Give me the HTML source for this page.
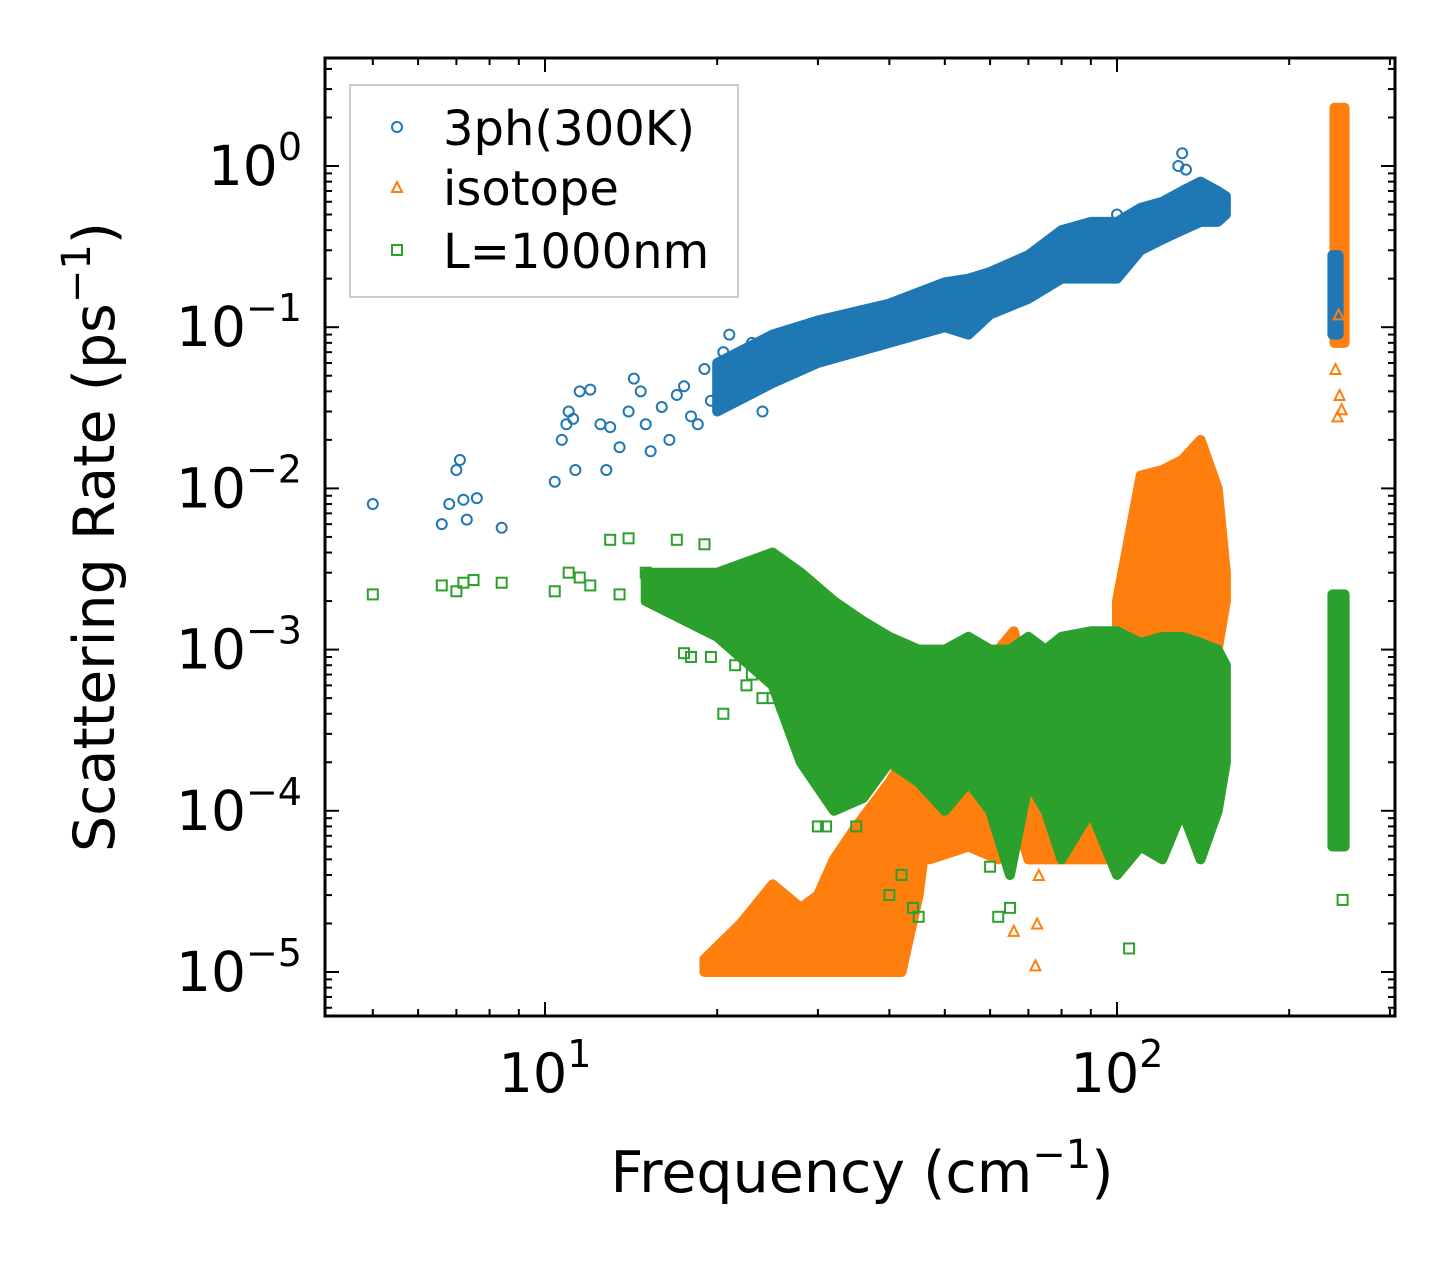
<!DOCTYPE html>
<html><head><meta charset="utf-8">
<style>
body{margin:0;background:#fff;}
svg text{font-family:"DejaVu Sans","Liberation Sans",sans-serif;fill:#000;}
</style></head>
<body>
<svg id="chart" width="1455" height="1265" viewBox="0 0 1455 1265" xmlns="http://www.w3.org/2000/svg">
<rect width="1455" height="1265" fill="#fff"/>
<g id="marks"></g>
<g id="axes"></g>
<text x="862" y="1192" font-size="57" text-anchor="middle">Frequency (cm<tspan dy="-24" font-size="40">−1</tspan><tspan dy="24">)</tspan></text>
<text transform="translate(114,537) rotate(-90)" font-size="57" text-anchor="middle">Scattering Rate (ps<tspan dy="-24" font-size="40">−1</tspan><tspan dy="24">)</tspan></text>
<g>
<rect x="350" y="85" width="388" height="212" fill="#fff" stroke="#ccc" stroke-width="2"/>
<g>
<circle cx="397" cy="127" r="5" fill="none" stroke="#1f77b4" stroke-width="2"/>
<text x="443" y="145" font-size="48">3ph(300K)</text></g>
<g>
<path d="M397,182 L402,192 L392,192 Z" fill="none" stroke="#ff7f0e" stroke-width="2"/>
<text x="443" y="205" font-size="48">isotope</text></g>
<g>
<rect x="392" y="245" width="10" height="10" fill="none" stroke="#2ca02c" stroke-width="2"/>
<text x="443" y="268" font-size="48">L=1000nm</text></g>
</g>
</svg>
<script>
// ---- data ----
const blueBandFreq=[20,25,30,40,50,55,60,70,80,90,100,110,120,130,140,150,155];
const blueBandLow=[0.03,0.045,0.06,0.08,0.1,0.09,0.12,0.15,0.2,0.2,0.2,0.3,0.35,0.4,0.45,0.45,0.5];
const blueBandHigh=[0.06,0.09,0.11,0.14,0.19,0.2,0.22,0.28,0.4,0.45,0.45,0.55,0.6,0.7,0.8,0.7,0.65];
const blueStripFreq=[238,244];const blueStripLow=[0.09,0.09];const blueStripHigh=[0.28,0.28];
const bluePtsFreq=[5,6.6,6.8,7,7.1,7.2,7.3,7.6,8.4,10.4,10.7,10.9,11,11.2,11.3,11.5,12,12.5,12.8,13,13.5,14,14.3,14.7,15,15.3,16,16.5,17,17.5,18,18.5,19,19.5,20.5,21,22,23,24,25,130,100,128,132];
const bluePtsRate=[0.008,0.006,0.008,0.013,0.015,0.0085,0.0064,0.0087,0.0057,0.011,0.02,0.025,0.03,0.027,0.013,0.04,0.041,0.025,0.013,0.024,0.018,0.03,0.048,0.04,0.025,0.017,0.032,0.02,0.038,0.043,0.028,0.025,0.055,0.035,0.07,0.09,0.05,0.08,0.03,0.05,1.2,0.5,1.0,0.95];

const orgBandFreq=[19,22,25,28,30,32,35,40,42,45,47];
const orgBandLow=[1e-5,1e-5,1e-5,1e-5,1e-5,1e-5,1e-5,1e-5,1e-5,3e-5,1e-4];
const orgBandHigh=[1.2e-5,2e-5,3.5e-5,2.5e-5,3e-5,5e-5,8e-5,1.5e-4,2e-4,3e-4,6e-4];
const orgMidFreq=[47,55,62,66,70,80,90,100];
const orgMidLow=[5e-5,6e-5,5e-5,1e-4,5e-5,5e-5,5e-5,5e-5];
const orgMidHigh=[8e-4,6e-4,1e-3,1.3e-3,6e-4,7e-4,8e-4,1e-3];
const orgHiFreq=[100,105,110,120,130,140,150,155];
const orgHiLow=[1e-3,2e-4,5e-4,1e-3,1e-3,1e-3,1e-3,2e-3];
const orgHiHigh=[2e-3,5e-3,1.2e-2,1.3e-2,1.5e-2,2e-2,1e-2,3e-3];
const orgStripFreq=[240,250];const orgStripLow=[0.08,0.08];const orgStripHigh=[2.3,2.3];
const orgPtsFreq=[72,72.5,73,66,243,245,247,241,244];
const orgPtsRate=[1.1e-5,2e-5,4e-5,1.8e-5,0.028,0.038,0.031,0.055,0.12];

const grnBandFreq=[15,20,25,28,32,36,40,45,50,55,60,65,70,75,80,90,100,110,120,130,140,150,155];
const grnBandLow=[0.002,0.0012,0.0006,0.0002,0.0001,0.00012,0.0002,0.00015,0.0001,0.00015,0.0001,0.00004,0.00015,0.0001,0.00005,0.0001,0.00004,0.00006,0.00005,0.0001,0.00005,0.0001,0.0002];
const grnBandHigh=[0.003,0.003,0.004,0.003,0.002,0.0015,0.0012,0.001,0.001,0.0012,0.001,0.001,0.0012,0.001,0.0012,0.0013,0.0013,0.0011,0.0012,0.0012,0.0011,0.001,0.0008];
const grnStripFreq=[238,250];const grnStripLow=[6e-5,6e-5];const grnStripHigh=[2.2e-3,2.2e-3];
const grnPtsFreq=[5,6.6,7,7.2,7.5,8.4,10.4,11,11.5,12,13,13.5,14,15,16,17,17.5,18,19,19.5,20,21,22,23,24,20.5,27,30,31,35,40,42,44,45,62,65,105,248,60,21.5,22.5,23.5,25,26];
const grnPtsRate=[0.0022,0.0025,0.0023,0.0026,0.0027,0.0026,0.0023,0.003,0.0028,0.0025,0.0048,0.0022,0.0049,0.003,0.0025,0.0048,0.00095,0.0009,0.0045,0.0009,0.0022,0.0018,0.0012,0.0007,0.0005,0.0004,0.00035,0.00008,0.00008,0.00008,0.00003,0.00004,0.000025,0.000022,0.000022,0.000025,0.000014,0.000028,0.000045,0.0008,0.0006,0.0009,0.0005,0.00045];

// ---- axes ----
const X0=545,DX=572,Y0=166,DY=161.2;
const PL=325,PR=1395,PT=58,PB=1016;
const xs=f=>X0+(Math.log10(f)-1)*DX;
const ys=v=>Y0-Math.log10(v)*DY;
const NS="http://www.w3.org/2000/svg";
const marks=document.getElementById('marks');
const axes=document.getElementById('axes');
function mk(tag,attrs,parent){const e=document.createElementNS(NS,tag);for(const k in attrs)e.setAttribute(k,attrs[k]);parent.appendChild(e);return e;}

function band(fr,lo,hi,color,name){
  let pts=fr.map((f,i)=>xs(f)+','+ys(hi[i]));
  for(let i=fr.length-1;i>=0;i--)pts.push(xs(fr[i])+','+ys(lo[i]));
  const p=mk('polygon',{points:pts.join(' '),fill:color,stroke:color,'stroke-width':10,'stroke-linejoin':'round'},marks);
  
  
}
function pts(fr,rt,kind,color,name){
  fr.forEach((f,i)=>{
    const x=xs(f),y=ys(rt[i]);let e;
    if(kind==='c')e=mk('circle',{cx:x,cy:y,r:5,fill:'none',stroke:color,'stroke-width':2},marks);
    else if(kind==='t')e=mk('path',{d:`M${x},${y-5} L${x+5},${y+5} L${x-5},${y+5} Z`,fill:'none',stroke:color,'stroke-width':2},marks);
    else e=mk('rect',{x:x-5,y:y-5,width:10,height:10,fill:'none',stroke:color,'stroke-width':2},marks);
    
    
  });
}
const B='#1f77b4',O='#ff7f0e',G='#2ca02c';
band(blueBandFreq,blueBandLow,blueBandHigh,B,'3ph-dense-band');
pts(bluePtsFreq,bluePtsRate,'c',B,'3ph-point');
band(orgBandFreq,orgBandLow,orgBandHigh,O,'isotope-low-band');
band(orgMidFreq,orgMidLow,orgMidHigh,O,'isotope-mid-band');
band(orgStripFreq,orgStripLow,orgStripHigh,O,'isotope-high-freq-strip');
band(blueStripFreq,blueStripLow,blueStripHigh,B,'3ph-high-freq-strip');
band(orgHiFreq,orgHiLow,orgHiHigh,O,'isotope-high-band');
pts(orgPtsFreq,orgPtsRate,'t',O,'isotope-point');
band(grnBandFreq,grnBandLow,grnBandHigh,G,'boundary-dense-band');
band(grnStripFreq,grnStripLow,grnStripHigh,G,'boundary-high-freq-strip');
pts(grnPtsFreq,grnPtsRate,'s',G,'boundary-point');

// frame
const fr=mk('rect',{x:PL,y:PT,width:PR-PL,height:PB-PT,fill:'none',stroke:'#000','stroke-width':3},axes);


// x ticks
for(let d=0;d<=2;d++){for(let m=1;m<10;m++){const f=m*Math.pow(10,d);const x=xs(f);if(x<PL||x>PR)continue;
  const L=m===1?14:7;
  mk('line',{x1:x,y1:PB,x2:x,y2:PB-L,stroke:'#000','stroke-width':2},axes);
  mk('line',{x1:x,y1:PT,x2:x,y2:PT+L,stroke:'#000','stroke-width':2},axes);
  if(m===1&&d>0){const t=mk('text',{x:x,y:1092,'font-size':54,'text-anchor':'middle'},axes);
    t.innerHTML='10<tspan dy="-25" font-size="38">'+d+'</tspan>';
    
    }
}}
// y ticks
for(let d=-6;d<=0;d++){for(let m=1;m<10;m++){const v=m*Math.pow(10,d);const y=ys(v);if(y<PT||y>PB)continue;
  const L=m===1?14:7;
  mk('line',{x1:PL,y1:y,x2:PL+L,y2:y,stroke:'#000','stroke-width':2},axes);
  mk('line',{x1:PR,y1:y,x2:PR-L,y2:y,stroke:'#000','stroke-width':2},axes);
  if(m===1){const t=mk('text',{x:302,y:y+19,'font-size':55,'text-anchor':'end'},axes);
    t.innerHTML='10<tspan dy="-25" font-size="38">'+(d===0?'0':'−'+(-d))+'</tspan>';
    
    }
}}
</script>
</body></html>
